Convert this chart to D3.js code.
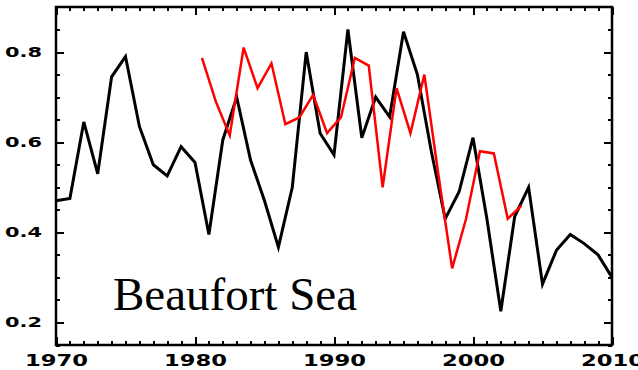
<!DOCTYPE html>
<html>
<head>
<meta charset="utf-8">
<script src="https://cdn.jsdelivr.net/npm/d3@7"></script>
<style>
  body { margin: 0; background: #fff; }
  svg { display: block; }
</style>
</head>
<body>
<div id="graph"></div>
<script>
// Data
var blackYears = [1970, 1971, 1972, 1973, 1974, 1975, 1976, 1977, 1978, 1979,
                  1980, 1981, 1982, 1983, 1984, 1985, 1986, 1987, 1988, 1989,
                  1990, 1991, 1992, 1993, 1994, 1995, 1996, 1997, 1998, 1999,
                  2000, 2001, 2002, 2003, 2004, 2005, 2006, 2007, 2008, 2009, 2010];
var blackValues = [0.47, 0.475, 0.645, 0.53, 0.745, 0.79, 0.635, 0.55, 0.525, 0.59,
                   0.555, 0.395, 0.605, 0.70, 0.56, 0.47, 0.367, 0.50, 0.80, 0.62,
                   0.572, 0.85, 0.61, 0.70, 0.656, 0.845, 0.75, 0.58, 0.43, 0.49,
                   0.61, 0.43, 0.225, 0.435, 0.50, 0.285, 0.36, 0.395, 0.375, 0.35, 0.30];

var redYears = [1980.5, 1981.5, 1982.5, 1983.5, 1984.5, 1985.5, 1986.5, 1987.5,
                1988.5, 1989.5, 1990.5, 1991.5, 1992.5, 1993.5, 1994.5, 1995.5,
                1996.5, 1997.5, 1998.5, 1999.5, 2000.5, 2001.5, 2002.5, 2003.5];
var redValues = [0.787, 0.69, 0.615, 0.81, 0.72, 0.775, 0.64, 0.655,
                 0.705, 0.62, 0.655, 0.787, 0.77, 0.50, 0.72, 0.62,
                 0.75, 0.53, 0.32, 0.43, 0.58, 0.575, 0.43, 0.46];

var xMajorTicks = [1970, 1980, 1990, 2000, 2010];
var yMajorTicks = [0.2, 0.4, 0.6, 0.8];
var yMinorTicks = [0.15, 0.25, 0.3, 0.35, 0.45, 0.5, 0.55, 0.65, 0.7, 0.75, 0.85];
var label = "Beaufort Sea";

var width = 638, height = 370;
// plot box (note: "top" is reserved on window, so use plot* names)
var plotLeft = 56, plotRight = 612, plotTop = 7, plotBottom = 345;

var xscale = d3.scaleLinear().domain([1970, 2010]).range([plotLeft, plotRight]);
var yscale = d3.scaleLinear().domain([0.15, 0.9]).range([plotBottom, plotTop]);

var xMinorTicks = xscale.ticks(40).filter(function (d) { return xMajorTicks.indexOf(d) < 0; });

var chart = d3.select("#graph")
              .append("svg")
                .attr("width", width)
                .attr("height", height);

// Axes: ticks point inward on all four sides
function addAxis(axis, tx, ty) {
  var g = chart.append("g")
               .attr("transform", "translate(" + tx + "," + ty + ")")
               .call(axis);
  g.select(".domain").remove();
  g.selectAll("line").attr("stroke", "#000").attr("stroke-width", 2)
   .attr("shape-rendering", "crispEdges");
  return g;
}

var yLeft = addAxis(d3.axisLeft(yscale).tickValues(yMajorTicks).tickSize(-8)
                      .tickPadding(14).tickFormat(d3.format(".1f")), plotLeft, 0);
addAxis(d3.axisLeft(yscale).tickValues(yMinorTicks).tickSize(-4).tickFormat(""), plotLeft, 0);
addAxis(d3.axisRight(yscale).tickValues(yMajorTicks).tickSize(-8).tickFormat(""), plotRight, 0);
addAxis(d3.axisRight(yscale).tickValues(yMinorTicks).tickSize(-4).tickFormat(""), plotRight, 0);

var xBottom = addAxis(d3.axisBottom(xscale).tickValues(xMajorTicks).tickSize(-8)
                        .tickPadding(10).tickFormat(d3.format("d")), 0, plotBottom);
addAxis(d3.axisBottom(xscale).tickValues(xMinorTicks).tickSize(-4).tickFormat(""), 0, plotBottom);
addAxis(d3.axisTop(xscale).tickValues(xMajorTicks).tickSize(-8).tickFormat(""), 0, plotTop);
addAxis(d3.axisTop(xscale).tickValues(xMinorTicks).tickSize(-4).tickFormat(""), 0, plotTop);

yLeft.selectAll("text")
     .attr("font-family", "DejaVu Sans")
     .attr("font-weight", "bold")
     .attr("font-size", 14)
     .attr("fill", "#000")
     .attr("textLength", 37)
     .attr("lengthAdjust", "spacingAndGlyphs");

xBottom.selectAll("text")
       .attr("font-family", "DejaVu Sans")
       .attr("font-weight", "bold")
       .attr("font-size", 16)
       .attr("fill", "#000")
       .attr("textLength", 63)
       .attr("lengthAdjust", "spacingAndGlyphs");

// Lines
var line = d3.line()
             .x(function (d) { return xscale(d[0]); })
             .y(function (d) { return yscale(d[1]); });

chart.append("path")
     .datum(d3.zip(blackYears, blackValues))
     .attr("d", line)
     .attr("fill", "none")
     .attr("stroke", "#000")
     .attr("stroke-width", 3);

chart.append("path")
     .datum(d3.zip(redYears, redValues))
     .attr("d", line)
     .attr("fill", "none")
     .attr("stroke", "#ff0000")
     .attr("stroke-width", 2.5);

// Frame
chart.append("rect")
     .attr("x", plotLeft).attr("y", plotTop)
     .attr("width", plotRight - plotLeft).attr("height", plotBottom - plotTop)
     .attr("fill", "none")
     .attr("stroke", "#000")
     .attr("stroke-width", 2.5);

chart.append("text")
     .attr("x", 113).attr("y", 310)
     .attr("font-family", "Liberation Serif")
     .attr("font-size", 47)
     .attr("fill", "#000")
     .text(label);
</script>
</body>
</html>
